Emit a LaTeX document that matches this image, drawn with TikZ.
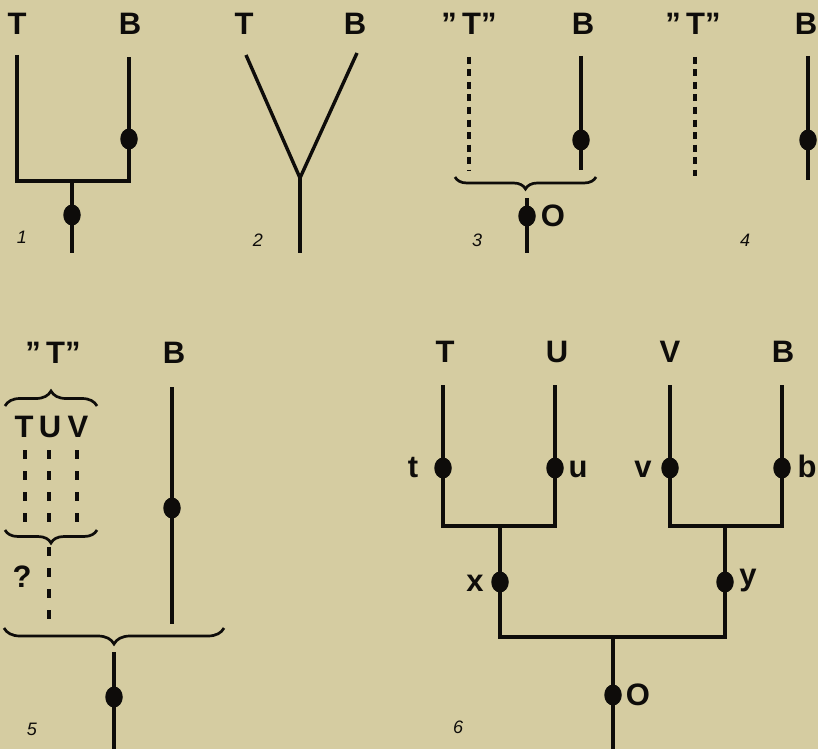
\documentclass[tikz,border=0pt]{standalone}
\usepackage{fontspec}
\setmainfont{Liberation Sans}
\usetikzlibrary{decorations.pathreplacing,shapes.geometric}
\definecolor{bg}{RGB}{213,204,161}
\definecolor{ink}{RGB}{14,12,10}
\begin{document}
\begin{tikzpicture}[x=1pt,y=-1pt,
  line/.style={line width=3.4pt, draw=ink, line join=miter},
  dline/.style={line width=3.4pt, draw=ink, dash pattern=on 7pt off 5.5pt},
  dlinelong/.style={line width=3.4pt, draw=ink, dash pattern=on 9pt off 12pt},
  lab/.style={font=\fontsize{31}{31}\selectfont\bfseries, text=ink, inner sep=0pt},
  num/.style={font=\fontsize{18}{18}\selectfont\itshape, text=ink, inner sep=0pt},
  dot/.style={ellipse, fill=ink, minimum width=17.5pt, minimum height=21pt, inner sep=0pt},
  bracedn/.style={line width=2.7pt, draw=ink, decorate, decoration={brace, amplitude=#1}},
]
\fill[bg] (0,0) rectangle (818,749);
\useasboundingbox (0,0) rectangle (818,749);

% ---------- Panel 1 ----------
\node[lab] (p1T) at (17,24) {T};
\node[lab] (p1B) at (130,24) {B};
\coordinate (p1a) at (17,55);
\coordinate (p1b) at (17,181);
\coordinate (p1c) at (129,181);
\coordinate (p1d) at (129,57);
\coordinate (p1e) at (72,181);
\coordinate (p1f) at (72,253);
\draw[line] (p1a) -- (p1b) -- (p1c) -- (p1d);
\draw[line] (p1e) -- (p1f);
\node[dot] (p1db) at (129,139) {};
\node[dot] (p1do) at (72,215) {};
\node[num] (n1) at (22,237) {1};

% ---------- Panel 2 ----------
\node[lab] (p2T) at (244,24) {T};
\node[lab] (p2B) at (355,24) {B};
\coordinate (p2a) at (246,55);
\coordinate (p2b) at (300,178);
\coordinate (p2c) at (357,53);
\coordinate (p2d) at (300,253);
\draw[line] (p2a) -- (p2b) -- (p2c);
\draw[line] (p2b) -- (p2d);
\node[num] (n2) at (258,240) {2};

% ---------- Panel 3 ----------
\node[lab] (p3T) at (469,24) {”\,T”};
\node[lab] (p3B) at (583,24) {B};
\coordinate (p3a) at (469,57);
\coordinate (p3b) at (469,170);
\coordinate (p3c) at (581,56);
\coordinate (p3d) at (581,170);
\draw[dline] (p3a) -- (p3b);
\draw[line] (p3c) -- (p3d);
\node[dot] (p3db) at (581,140) {};
\coordinate (p3r) at (596,177);
\coordinate (p3l) at (455,177);
\draw[bracedn=12pt] (p3r) -- (p3l);
\coordinate (p3s) at (527,198);
\coordinate (p3e) at (527,253);
\draw[line] (p3s) -- (p3e);
\node[dot] (p3do) at (527,216) {};
\node[lab] (p3O) at (553,216) {O};
\node[num] (n3) at (477,240) {3};

% ---------- Panel 4 ----------
\node[lab] (p4T) at (693,24) {”\,T”};
\node[lab] (p4B) at (806,24) {B};
\coordinate (p4a) at (695,57);
\coordinate (p4b) at (695,176);
\coordinate (p4c) at (808,56);
\coordinate (p4d) at (808,180);
\draw[dline] (p4a) -- (p4b);
\draw[line] (p4c) -- (p4d);
\node[dot] (p4db) at (808,140) {};
\node[num] (n4) at (745,240) {4};

% ---------- Panel 5 ----------
\node[lab] (p5T) at (53,353) {”\,T”};
\node[lab] (p5B) at (174,353) {B};
\coordinate (p5ul) at (5,406);
\coordinate (p5ur) at (97,406);
\draw[bracedn=15pt] (p5ul) -- (p5ur);
\node[lab] (p5t) at (24,427) {T};
\node[lab] (p5u) at (50,427) {U};
\node[lab] (p5v) at (78,427) {V};
\foreach \x/\n in {25/a,49/b,77/c}{
  \coordinate (p5\n1) at (\x,450);
  \coordinate (p5\n2) at (\x,528);
  \draw[dlinelong] (p5\n1) -- (p5\n2);
}
\coordinate (p5ml) at (5,530);
\coordinate (p5mr) at (97,530);
\draw[bracedn=13pt] (p5mr) -- (p5ml);
\coordinate (p5q1) at (49,547);
\coordinate (p5q2) at (49,625);
\draw[dlinelong] (p5q1) -- (p5q2);
\node[lab] (p5q) at (22,577) {?};
\coordinate (p5b1) at (172,387);
\coordinate (p5b2) at (172,624);
\draw[line] (p5b1) -- (p5b2);
\node[dot] (p5db) at (172,508) {};
\coordinate (p5ll) at (4,628);
\coordinate (p5lr) at (224,628);
\draw[bracedn=16pt] (p5lr) -- (p5ll);
\coordinate (p5s1) at (114,652);
\coordinate (p5s2) at (114,749);
\draw[line] (p5s1) -- (p5s2);
\node[dot] (p5do) at (114,697) {};
\node[num] (n5) at (32,729) {5};

% ---------- Panel 6 ----------
\node[lab] (p6T) at (445,352) {T};
\node[lab] (p6U) at (557,352) {U};
\node[lab] (p6V) at (670,352) {V};
\node[lab] (p6B) at (783,352) {B};
\coordinate (p6t0) at (443,385);
\coordinate (p6t1) at (443,526);
\coordinate (p6u0) at (555,385);
\coordinate (p6u1) at (555,526);
\coordinate (p6v0) at (670,385);
\coordinate (p6v1) at (670,526);
\coordinate (p6b0) at (782,385);
\coordinate (p6b1) at (782,526);
\draw[line] (p6t0) -- (p6t1) -- (p6u1) -- (p6u0);
\draw[line] (p6v0) -- (p6v1) -- (p6b1) -- (p6b0);
\coordinate (p6x0) at (500,526);
\coordinate (p6x1) at (500,637);
\coordinate (p6y0) at (725,526);
\coordinate (p6y1) at (725,637);
\draw[line] (p6x0) -- (p6x1) -- (p6y1) -- (p6y0);
\coordinate (p6o0) at (613,637);
\coordinate (p6o1) at (613,749);
\draw[line] (p6o0) -- (p6o1);
\node[dot] (p6dt) at (443,468) {};
\node[dot] (p6du) at (555,468) {};
\node[dot] (p6dv) at (670,468) {};
\node[dot] (p6db) at (782,468) {};
\node[dot] (p6dx) at (500,582) {};
\node[dot] (p6dy) at (725,582) {};
\node[dot] (p6do) at (613,695) {};
\node[lab, anchor=base] (p6lt) at (413,477) {t};
\node[lab, anchor=base] (p6lu) at (578,477) {u};
\node[lab, anchor=base] (p6lv) at (643,477) {v};
\node[lab, anchor=base] (p6lb) at (807,477) {b};
\node[lab, anchor=base] (p6lx) at (475,591) {x};
\node[lab, anchor=base] (p6ly) at (748,585) {y};
\node[lab] (p6lo) at (638,695) {O};
\node[num] (n6) at (458,727) {6};
\end{tikzpicture}
\end{document}
